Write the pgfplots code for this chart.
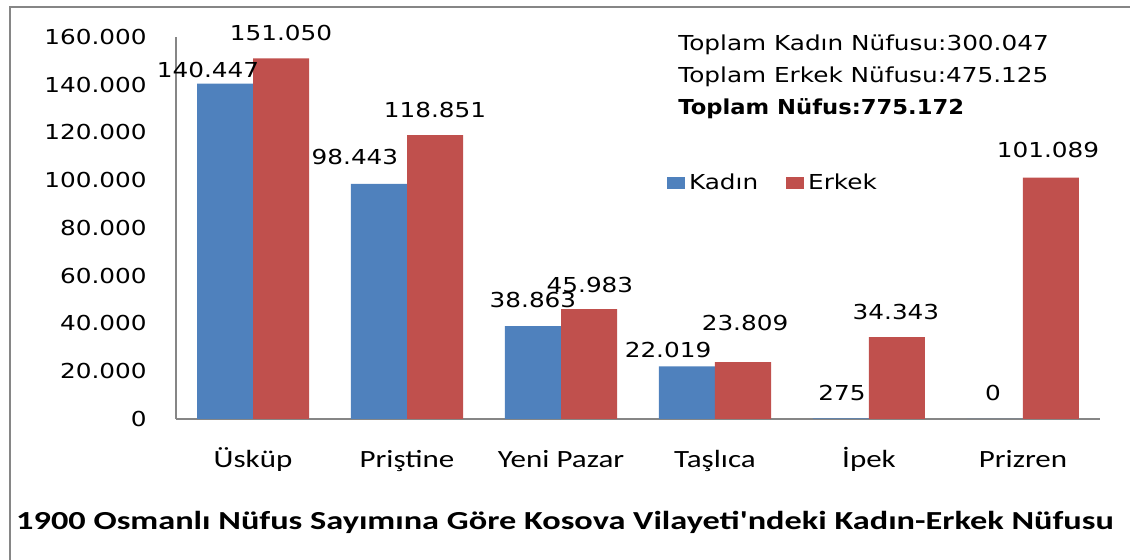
\documentclass[border=0pt]{standalone}
\usepackage{fontspec}
\usepackage{pgfplots}
\pgfplotsset{compat=1.18}
\newfontfamily\numfont[FakeStretch=1.2]{DejaVu Sans}
\newfontfamily\numfontB[FakeStretch=1.1]{DejaVu Sans}
\newfontfamily\catfont[FakeStretch=1.25]{Carlito}
\newfontfamily\titlefont[FakeStretch=1.32]{Carlito}
\newcommand{\nf}{\numfont\fontsize{10.3}{12}\selectfont}
\definecolor{kblue}{HTML}{4F81BD}
\definecolor{kred}{HTML}{C0504D}
\definecolor{axgray}{HTML}{868686}
\tikzset{lbl/.style={inner sep=0pt, font=\nf}}
\begin{document}
\begin{tikzpicture}
\path[use as bounding box] (0,0) rectangle (565pt,-280pt);
\draw[color=axgray, line width=1.1pt] (5pt,-280pt) -- (5pt,-3.5pt) -- (565pt,-3.5pt);
\begin{axis}[
  at={(88pt,-209.5pt)}, anchor=south west,
  scale only axis, width=462pt, height=191pt,
  xmin=-0.5, xmax=5.5, ymin=0, ymax=160000,
  ybar=0pt, bar width=28pt,
  axis x line*=bottom, axis y line*=left,
  axis line style={-, draw=axgray, line width=0.6pt},
  major tick length=0pt,
  xtick={0,1,2,3,4,5},
  xticklabels={Üsküp,Priştine,Yeni Pazar,Taşlıca,İpek,Prizren},
  xticklabel style={font=\catfont\fontsize{12.4}{14}\selectfont, anchor=base, yshift=-24pt, inner sep=0pt},
  ytick={0,20000,40000,60000,80000,100000,120000,140000,160000},
  yticklabels={0,20.000,40.000,60.000,80.000,100.000,120.000,140.000,160.000},
  yticklabel style={font=\nf, anchor=east, inner sep=0pt, xshift=-14.5pt},
  scaled y ticks=false,
  clip=false,
  legend columns=2,
  legend style={at={(0.531,0.618)}, anchor=west, draw=none, fill=none, inner sep=0pt,
    font=\nf,
    /tikz/every even column/.append style={column sep=12pt},
    legend cell align=left},
  legend image code/.code={\fill[#1] (0pt,-3.2pt) rectangle (9pt,3.2pt);},
]
\addplot[fill=kblue, draw=none] coordinates {(0,140447) (1,98443) (2,38863) (3,22019) (4,275) (5,0)};
\addplot[fill=kred, draw=none] coordinates {(0,151050) (1,118851) (2,45983) (3,23809) (4,34343) (5,101089)};
\legend{Kadın,Erkek}
% data labels (blue)
\node[lbl] at (axis cs:-0.292,146200) {140.447};
\node[lbl] at (axis cs:0.662,109740) {98.443};
\node[lbl] at (axis cs:1.818,49840) {38.863};
\node[lbl] at (axis cs:2.695,28900) {22.019};
\node[lbl] at (axis cs:3.825,10890) {275};
\node[lbl] at (axis cs:4.805,10890) {0};
% data labels (red)
\node[lbl] at (axis cs:0.182,161680) {151.050};
\node[lbl] at (axis cs:1.182,129425) {118.851};
\node[lbl] at (axis cs:2.188,56126) {45.983};
\node[lbl] at (axis cs:3.195,40210) {23.809};
\node[lbl] at (axis cs:4.175,44817) {34.343};
\node[lbl] at (axis cs:5.162,112670) {101.089};
\end{axis}
\node[anchor=base west, inner sep=0pt, font=\nf] at (339pt,-25.25pt) {Toplam Kadın Nüfusu:300.047};
\node[anchor=base west, inner sep=0pt, font=\nf] at (339pt,-41.25pt) {Toplam Erkek Nüfusu:475.125};
\node[anchor=base west, inner sep=0pt, font=\numfontB\bfseries\fontsize{10.3}{12}\selectfont] at (339pt,-57.25pt) {Toplam Nüfus:775.172};
\node[anchor=base, inner sep=0pt, font=\titlefont\bfseries\fontsize{13}{15}\selectfont] at (282.5pt,-265pt) {1900 Osmanlı Nüfus Sayımına Göre Kosova Vilayeti'ndeki Kadın-Erkek Nüfusu};
\end{tikzpicture}
\end{document}
